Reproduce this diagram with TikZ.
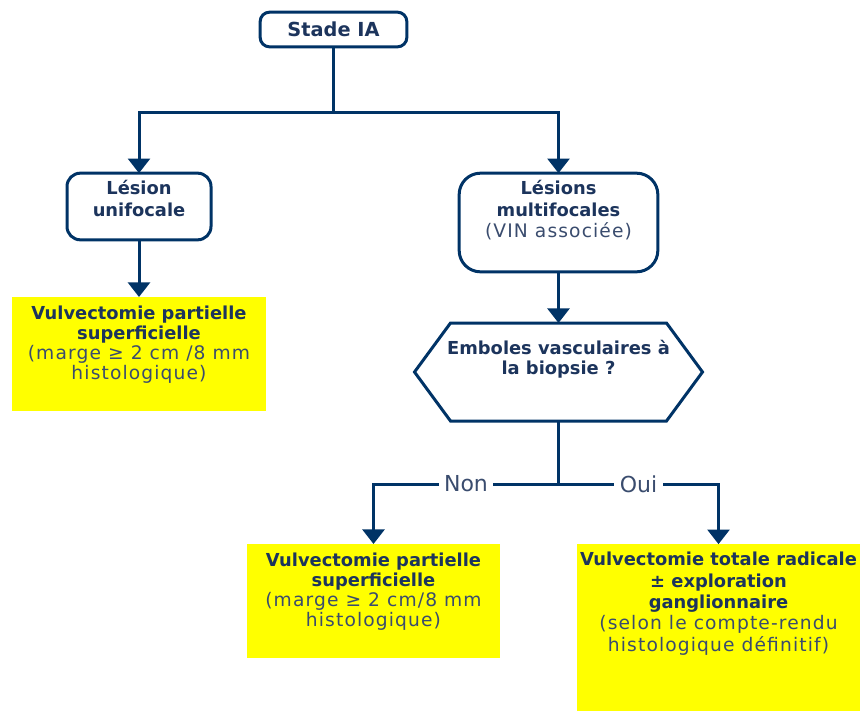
\documentclass[tikz,border=0pt]{standalone}
\usepackage{fontspec}
\setmainfont{DejaVu Sans}
\newfontfamily\widefont[LetterSpace=6]{DejaVu Sans}
\usetikzlibrary{arrows.meta,calc}
\definecolor{navy}{RGB}{0,51,102}
\definecolor{inkblue}{RGB}{28,52,92}
\definecolor{slate}{RGB}{58,76,110}
\definecolor{lemon}{RGB}{255,255,0}
% text box: width, height, top gap, text
\newcommand{\toptext}[4]{\parbox[c][#2][t]{#1}{\centering\vspace*{#3}#4}}
\newcommand{\thin}[1]{{\widefont\mdseries\fontsize{14}{15}\selectfont\color{slate}#1}}

\begin{document}
\begin{tikzpicture}[x=0.75pt,y=-0.75pt,
  line/.style={draw=navy,line width=2.25pt},
  arr/.style={line,-{Triangle[width=16.5pt,length=11pt]}},
  every node/.style={font=\fontsize{13.4}{15}\selectfont\bfseries,text=inkblue,inner sep=0pt,outer sep=0pt},
  roundbox/.style={line,fill=white,rounded corners=#1},
  yellowbox/.style={fill=lemon},
  tag/.style={fill=white,font=\mdseries\fontsize{16.5}{18}\selectfont,text=slate,inner xsep=4pt,inner ysep=1pt}]
  \useasboundingbox (0,0) rectangle (866,711);
  % top and first level
  \node[roundbox=7pt,minimum width=110pt,minimum height=26pt,font=\fontsize{14.5}{15}\selectfont\bfseries] (stade) at (333.5,29.5) {Stade IA};
  \node[roundbox=10pt] (uni) at (139,206.5) {\toptext{108pt}{50pt}{5.5pt}{Lésion\\[1pt]unifocale}};
  \node[roundbox=16pt] (multi) at (558.5,222.5) {\toptext{149pt}{74pt}{5.5pt}{Lésions\\[1pt]multifocales\\[1pt]\thin{(VIN associée)}}};
  \node (emb) at (558.5,372) {\toptext{216pt}{73.5pt}{13pt}{Emboles vasculaires à\\la biopsie ?}};
  \draw[line] ($(emb.north west)+(36,0)$) -- ($(emb.north east)+(-36,0)$) -- (emb.east)
    -- ($(emb.south east)+(-36,0)$) -- ($(emb.south west)+(36,0)$) -- (emb.west) -- cycle;
  % treatments
  \node[yellowbox] (yel1) at (139,354) {\toptext{190.5pt}{85.5pt}{6.5pt}{Vulvectomie partielle\\superficielle\\\thin{(marge ≥ 2 cm /8 mm\\histologique)}}};
  \node[yellowbox] (yel2) at (373.5,601) {\toptext{189.75pt}{85.5pt}{6.5pt}{Vulvectomie partielle\\superficielle\\\thin{(marge ≥ 2 cm/8 mm\\histologique)}}};
  \node[yellowbox] (yel3) at (718.5,627.5) {\toptext{212pt}{125pt}{6pt}{Vulvectomie~totale~radicale\\[1pt]± exploration\\[1pt]ganglionnaire\\[1pt]\thin{(selon le compte-rendu\\[1pt]histologique définitif)}}};
  % connectors
  \coordinate (fork) at (333.5,112);
  \coordinate (fork2) at (558.5,484);
  \draw[line] (stade) -- (fork);
  \draw[arr] (fork) -| (uni);
  \draw[arr] (fork) -| (multi);
  \draw[arr] (uni) -- (yel1);
  \draw[arr] (multi) -- (emb);
  \draw[line] (emb) -- (fork2);
  \draw[arr] (fork2) -| node[tag,pos=0.25] {Non} (yel2);
  \draw[arr] (fork2) -| node[tag,pos=0.25] {Oui} (yel3);
\end{tikzpicture}
\end{document}
